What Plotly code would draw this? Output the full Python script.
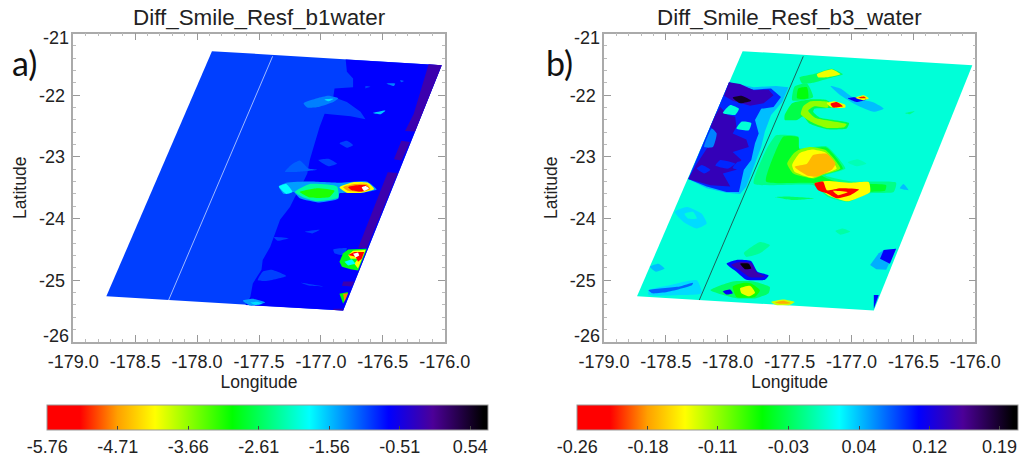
import plotly.graph_objects as go
from plotly.colors import sample_colorscale

W, H = 1021, 458

# ---------- colour scale shared by both panels ----------
scale_stops = [
    [0.0, "#ff0000"], [0.075, "#ff0000"], [0.16, "#ffa000"], [0.245, "#ffff00"],
    [0.42, "#00ff00"], [0.595, "#00ffff"], [0.775, "#0000ff"],
    [0.875, "#4c0098"], [0.99, "#000000"], [1.0, "#000000"],
]

# ---------- scales ----------
a_cmin, a_cmax = -5.76, 0.81
b_cmin, b_cmax = -0.26, 0.208
a_cbar_vals = [-5.76, -4.71, -3.66, -2.61, -1.56, -0.51, 0.54]
a_cbar_text = ["-5.76", "-4.71", "-3.66", "-2.61", "-1.56", "-0.51", "0.54"]
b_cbar_vals = [-0.26, -0.185, -0.111, -0.036, 0.039, 0.114, 0.188]
b_cbar_text = ["-0.26", "-0.18", "-0.11", "-0.03", "0.04", "0.12", "0.19"]

lon_ticks = [-179.0, -178.5, -178.0, -177.5, -177.0, -176.5, -176.0]
lon_labels = ["-179.0", "-178.5", "-178.0", "-177.5", "-177.0", "-176.5", "-176.0"]
lat_ticks = [-22, -23, -24, -25]
lat_labels = ["-22", "-23", "-24", "-25"]

# ---------- swath outline and the straight track line ----------
swath_lon = [-177.88, -176.024, -176.82, -178.733]
swath_lat = [-21.286, -21.513, -25.49, -25.26]
track_lon = [-177.39, -178.23]
track_lat = [-21.37, -25.32]

a_base_value = -0.96
b_base_value = 0.006

# ---------- panel a: regions as (value, [(lon, lat), ...]) ----------
a_zones = [
    (-0.67, [(-176.80,-21.42),(-176.79,-21.62),(-176.74,-21.73),(-176.74,-21.87),(-176.89,-21.89),
             (-176.90,-22.03),(-176.79,-22.11),(-176.68,-22.27),(-176.64,-22.39),(-176.76,-22.34),
             (-176.97,-22.30),(-177.01,-22.51),(-177.05,-22.78),(-177.09,-23.05),(-177.11,-23.27),
             (-177.16,-23.48),(-177.21,-23.65),(-177.25,-23.81),(-177.33,-24.02),(-177.37,-24.24),
             (-177.41,-24.46),(-177.47,-24.67),(-177.48,-24.83),(-177.55,-25.05),(-177.57,-25.27),
             (-177.61,-25.40),(-176.82,-25.49),(-176.024,-21.513)]),
    (-0.15, [(-176.13,-21.50),(-176.024,-21.513),(-176.24,-22.59),(-176.32,-22.58),(-176.25,-22.30),
             (-176.21,-22.03),(-176.17,-21.76)]),
    (-0.15, [(-176.35,-22.74),(-176.28,-22.76),(-176.35,-23.06),(-176.41,-23.04)]),
    (-0.15, [(-176.46,-23.25),(-176.38,-23.26),(-176.63,-24.48),(-176.70,-24.48)]),
    (-0.15, [(-176.82,-25.02),(-176.73,-25.02),(-176.75,-25.10),(-176.83,-25.09)]),
    (-0.15, [(-176.90,-25.46),(-176.82,-25.46),(-176.82,-25.49),(-176.90,-25.48)]),
]
a_faint_blobs = [
    (-1.26, [(-177.14,-22.13),(-177.03,-22.05),(-176.94,-22.01),(-176.86,-22.05),(-176.90,-22.11),(-177.02,-22.19),(-177.11,-22.20)]),
    (-1.70, [(-176.97,-22.07),(-176.90,-22.06),(-176.94,-22.10)]),
    (-0.96, [(-176.85,-22.78),(-176.79,-22.74),(-176.74,-22.81),(-176.79,-22.85)]),
    (-0.96, [(-177.02,-23.05),(-176.94,-23.03),(-176.87,-23.11),(-176.94,-23.15)]),
    (-1.11, [(-177.29,-23.24),(-177.24,-23.13),(-177.17,-23.06),(-177.10,-23.19),(-177.03,-23.21),(-177.17,-23.24)]),
    (-1.26, [(-176.47,-21.81),(-176.40,-21.81),(-176.41,-21.85)]),
    (-1.60, [(-176.58,-22.29),(-176.48,-22.25),(-176.52,-22.31)]),
    (-0.96, [(-176.64,-21.85),(-176.60,-21.86),(-176.64,-21.89)]),
    (-1.10, [(-176.36,-21.76),(-176.33,-21.77),(-176.35,-21.79)]),
    (-0.96, [(-177.13,-24.21),(-177.01,-24.18),(-177.07,-24.24)]),
    (-0.96, [(-177.38,-24.30),(-177.26,-24.32),(-177.35,-24.36)]),
    (-0.96, [(-177.47,-24.86),(-177.40,-24.83),(-177.28,-24.93),(-177.44,-25.01),(-177.51,-25.00)]),
    (-0.96, [(-177.16,-25.04),(-176.98,-25.10),(-177.09,-25.09)]),
    (-0.96, [(-176.90,-24.50),(-176.79,-24.48),(-176.82,-24.59),(-176.89,-24.56)]),
]
a_storm_cells = [
    (-1.40, [(-177.34,-23.48),(-177.28,-23.42),(-177.09,-23.40),(-176.85,-23.42),(-176.63,-23.40),(-176.55,-23.53),
             (-176.66,-23.58),(-176.85,-23.59),(-176.86,-23.68),(-177.01,-23.74),(-177.17,-23.67),(-177.22,-23.57),(-177.30,-23.60)]),
    (-1.85, [(-177.34,-23.48),(-177.28,-23.44),(-177.23,-23.57),(-177.28,-23.60)]),
    (-2.28, [(-177.21,-23.57),(-177.09,-23.44),(-176.87,-23.48),(-176.86,-23.66),(-177.03,-23.72),(-177.15,-23.65)]),
    (-3.13, [(-177.17,-23.57),(-177.03,-23.51),(-176.89,-23.55),(-176.93,-23.65),(-177.09,-23.66)]),
    (-4.15, [(-176.85,-23.49),(-176.74,-23.41),(-176.62,-23.42),(-176.57,-23.52),(-176.67,-23.58),(-176.79,-23.58)]),
    (-4.70, [(-176.82,-23.49),(-176.73,-23.44),(-176.63,-23.44),(-176.60,-23.52),(-176.67,-23.57),(-176.78,-23.55)]),
    (-5.40, [(-176.78,-23.49),(-176.71,-23.46),(-176.64,-23.46),(-176.61,-23.51),(-176.67,-23.56),(-176.75,-23.54)]),
    (None,  [(-176.67,-23.49),(-176.64,-23.47),(-176.61,-23.51),(-176.65,-23.55)]),
    (-1.40, [(-177.63,-25.33),(-177.55,-25.30),(-177.45,-25.36),(-177.57,-25.41)]),
    (-1.70, [(-177.57,-25.36),(-177.51,-25.35),(-177.47,-25.38),(-177.53,-25.40)]),
]
a_edge_cells = [
    (-2.90, [(-176.85,-24.70),(-176.82,-24.56),(-176.78,-24.50),(-176.63,-24.49),(-176.70,-24.84),(-176.76,-24.82),(-176.83,-24.78)]),
    (-4.15, [(-176.78,-24.59),(-176.74,-24.52),(-176.64,-24.51),(-176.70,-24.81),(-176.73,-24.73),(-176.70,-24.65),(-176.76,-24.65)]),
    (-5.40, [(-176.78,-24.59),(-176.73,-24.54),(-176.65,-24.54),(-176.67,-24.65),(-176.70,-24.70),(-176.72,-24.62)]),
    (None,  [(-176.74,-24.57),(-176.70,-24.55),(-176.69,-24.60),(-176.72,-24.63)]),
    (-1.85, [(-176.81,-24.70),(-176.75,-24.66),(-176.72,-24.73),(-176.78,-24.76)]),
    (-3.00, [(-176.85,-25.22),(-176.78,-25.19),(-176.82,-25.38)]),
    (-4.80, [(-176.82,-25.22),(-176.78,-25.21),(-176.81,-25.35)]),
]

# ---------- panel b ----------
b_left_layers = [
    (0.04, [(-177.99,-21.79),(-177.79,-21.87),(-177.61,-21.85),(-177.51,-21.87),(-177.56,-22.11),(-177.65,-22.32),(-177.70,-22.59),
            (-177.73,-22.84),(-177.79,-23.16),(-177.85,-23.48),(-177.90,-23.60),(-178.01,-23.58),(-178.17,-23.51),(-178.32,-23.36)]),
    (0.09, [(-177.99,-21.79),(-177.79,-21.91),(-177.65,-21.89),(-177.57,-22.03),(-177.63,-22.19),(-177.73,-22.22),(-177.78,-22.40),
            (-177.75,-22.62),(-177.78,-22.78),(-177.81,-23.05),(-177.87,-23.21),(-177.91,-23.57),(-178.01,-23.57),(-178.17,-23.48),
            (-178.32,-23.36),(-178.21,-22.84),(-178.09,-22.27)]),
    (0.135, [(-177.99,-21.79),(-177.90,-21.82),(-177.79,-21.92),(-177.67,-21.91),(-177.63,-22.00),(-177.71,-22.13),(-177.82,-22.17),
             (-177.96,-22.09),(-178.03,-22.01)]),
    (0.135, [(-178.06,-22.19),(-178.00,-22.32),(-177.94,-22.35),(-177.93,-22.51),(-177.96,-22.62),(-177.85,-22.72),(-177.83,-22.84),
             (-177.96,-22.92),(-177.89,-23.05),(-177.93,-23.21),(-178.04,-23.27),(-177.98,-23.48),(-178.14,-23.46),(-178.32,-23.36),
             (-178.25,-23.11),(-178.16,-22.84),(-178.09,-22.62),(-178.14,-22.51),(-178.10,-22.32)]),
]
b_left_spots = [
    (0.006, [(-177.98,-22.16),(-177.91,-22.22),(-177.94,-22.32),(-178.04,-22.29)]),
    (0.006, [(-177.89,-22.43),(-177.81,-22.45),(-177.83,-22.57),(-177.93,-22.54)]),
    (0.06,  [(-178.13,-22.54),(-178.09,-22.62),(-178.12,-22.84),(-178.19,-22.84)]),
    (0.09,  [(-177.92,-23.08),(-177.83,-23.06),(-177.88,-23.22),(-177.96,-23.18)]),
    (0.09,  [(-178.21,-23.13),(-178.14,-23.21),(-178.19,-23.27),(-178.25,-23.19)]),
    (0.09,  [(-178.06,-23.05),(-177.94,-23.11),(-178.00,-23.19),(-178.10,-23.14)]),
    (0.19,  [(-177.96,-22.04),(-177.89,-22.01),(-177.81,-22.09),(-177.90,-22.13)]),
]
b_warm_regions = [
    (-0.03, [(-177.42,-21.71),(-177.31,-21.66),(-177.16,-21.57),(-177.07,-21.66),(-177.19,-21.73),(-177.31,-21.80),(-177.40,-21.81)]),
    (-0.14, [(-177.28,-21.66),(-177.16,-21.58),(-177.09,-21.66),(-177.20,-21.71),(-177.27,-21.71)]),
    (-0.03, [(-177.46,-21.86),(-177.36,-21.81),(-177.31,-22.03),(-177.39,-22.08),(-177.48,-22.08)]),
    (-0.06, [(-177.43,-21.89),(-177.36,-21.87),(-177.35,-22.05),(-177.44,-22.05)]),
    (-0.04, [(-177.54,-22.32),(-177.48,-22.13),(-177.34,-22.07),(-177.20,-22.08),(-177.13,-22.20),(-177.30,-22.22),(-177.31,-22.27),
             (-177.26,-22.36),(-177.02,-22.45),(-177.04,-22.54),(-177.20,-22.55),(-177.34,-22.46),(-177.39,-22.34),(-177.44,-22.40),(-177.54,-22.40)]),
    (-0.11, [(-177.39,-22.18),(-177.33,-22.10),(-177.19,-22.11),(-177.19,-22.20),(-177.30,-22.18),(-177.35,-22.25),(-177.29,-22.37),
             (-177.04,-22.47),(-177.06,-22.52),(-177.20,-22.53),(-177.33,-22.43),(-177.41,-22.31)]),
    (-0.14, [(-177.20,-22.13),(-177.14,-22.10),(-177.05,-22.16),(-177.05,-22.20),(-177.16,-22.20)]),
    (-0.225, [(-177.17,-22.14),(-177.12,-22.11),(-177.07,-22.18),(-177.15,-22.20)]),
    (-0.02, [(-177.61,-22.65),(-177.43,-22.67),(-177.43,-22.86),(-177.20,-22.83),(-177.05,-23.19),(-177.21,-23.30),(-176.99,-23.40),
             (-176.64,-23.42),(-176.66,-23.57),(-176.86,-23.59),(-177.03,-23.73),(-177.19,-23.65),(-177.31,-23.46),(-177.79,-23.43),(-177.69,-22.89)]),
    (-0.05, [(-177.55,-22.67),(-177.43,-22.68),(-177.42,-22.87),(-177.20,-22.85),(-177.07,-23.19),(-177.24,-23.30),(-177.09,-23.42),
             (-176.72,-23.46),(-176.73,-23.55),(-176.86,-23.57),(-177.03,-23.70),(-177.17,-23.62),(-177.30,-23.43),(-177.69,-23.40),(-177.61,-22.89)]),
    (-0.105, [(-177.43,-22.89),(-177.34,-22.84),(-177.21,-22.89),(-177.09,-23.19),(-177.24,-23.30),(-177.31,-23.35),(-177.47,-23.27),(-177.52,-23.11),(-177.47,-22.95)]),
    (-0.145, [(-177.42,-22.94),(-177.32,-22.88),(-177.21,-22.93),(-177.12,-23.19),(-177.25,-23.29),(-177.32,-23.34),(-177.46,-23.24),(-177.48,-23.13)]),
    (-0.175, [(-177.31,-22.97),(-177.20,-22.95),(-177.13,-23.11),(-177.16,-23.21),(-177.28,-23.32),(-177.36,-23.30),(-177.46,-23.16),(-177.36,-23.11)]),
    (-0.145, [(-177.30,-23.43),(-177.20,-23.39),(-177.01,-23.42),(-176.86,-23.41),(-176.85,-23.57),(-177.03,-23.72),(-177.18,-23.63)]),
    (-0.23, [(-177.30,-23.43),(-177.23,-23.40),(-177.20,-23.54),(-177.09,-23.51),(-176.94,-23.53),(-177.01,-23.62),(-177.12,-23.67),(-177.20,-23.59),(-177.27,-23.54)]),
    (-0.15, [(-177.15,-23.55),(-177.03,-23.57),(-177.11,-23.62)]),
    (-0.03, [(-177.62,-23.65),(-177.52,-23.64),(-177.30,-23.67),(-177.47,-23.70)]),
    (-0.01, [(-177.13,-24.20),(-177.07,-24.16),(-177.01,-24.21),(-177.09,-24.26)]),
    (-0.005, [(-177.03,-23.09),(-176.95,-23.04),(-176.88,-23.11),(-176.96,-23.15)]),
    (-0.015, [(-177.87,-24.56),(-177.74,-24.38),(-177.66,-24.43),(-177.74,-24.56),(-177.85,-24.62)]),
    (-0.03, [(-178.14,-25.16),(-177.96,-25.02),(-177.79,-25.02),(-177.66,-25.11),(-177.67,-25.21),(-177.77,-25.29),(-177.93,-25.29)]),
    (-0.07, [(-177.96,-25.10),(-177.87,-25.04),(-177.81,-25.05),(-177.74,-25.16),(-177.78,-25.27),(-177.93,-25.27)]),
    (-0.14, [(-177.90,-25.13),(-177.82,-25.09),(-177.78,-25.20),(-177.83,-25.26),(-177.89,-25.21)]),
    (-0.13, [(-177.65,-25.35),(-177.55,-25.31),(-177.46,-25.35),(-177.50,-25.40),(-177.61,-25.40)]),
    (-0.18, [(-177.62,-25.36),(-177.55,-25.33),(-177.49,-25.37),(-177.58,-25.38)]),
    (-0.02, [(-176.57,-22.29),(-176.49,-22.26),(-176.53,-22.31)]),
]
b_cool_regions = [
    (0.04, [(-177.17,-21.85),(-177.09,-21.89),(-176.99,-22.03),(-176.82,-22.12),(-176.74,-22.22),(-176.82,-22.27),(-176.96,-22.16),(-177.09,-22.00)]),
    (0.105, [(-177.03,-22.05),(-176.95,-22.03),(-176.88,-22.07),(-176.96,-22.11)]),
    (-0.14, [(-176.97,-22.04),(-176.90,-22.00),(-176.86,-22.05),(-176.90,-22.08)]),
    (-0.22, [(-176.95,-22.04),(-176.90,-22.02),(-176.88,-22.05)]),
    (0.04, [(-176.61,-23.51),(-176.58,-23.44),(-176.54,-23.54)]),
    (0.10, [(-178.01,-24.73),(-177.93,-24.67),(-177.81,-24.69),(-177.76,-24.86),(-177.67,-24.92),(-177.70,-24.99),(-177.85,-24.99),(-177.93,-24.86)]),
    (0.14, [(-177.97,-24.75),(-177.90,-24.70),(-177.81,-24.72),(-177.77,-24.86),(-177.70,-24.94),(-177.82,-24.95),(-177.90,-24.84)]),
    (0.20, [(-177.90,-24.73),(-177.83,-24.73),(-177.81,-24.81),(-177.86,-24.82)]),
    (0.105, [(-178.04,-25.18),(-177.98,-25.15),(-177.96,-25.21),(-178.01,-25.23)]),
    (0.04, [(-178.63,-24.78),(-178.56,-24.73),(-178.51,-24.81),(-178.58,-24.86)]),
    (0.03, [(-178.64,-25.16),(-178.47,-25.08),(-178.25,-25.00),(-178.21,-25.21),(-178.39,-25.24),(-178.64,-25.24)]),
    (0.07, [(-178.64,-25.16),(-178.39,-25.10),(-178.28,-25.04),(-178.29,-25.08),(-178.49,-25.19),(-178.61,-25.21)]),
    (0.03, [(-178.43,-23.89),(-178.33,-23.81),(-178.21,-23.92),(-178.17,-24.08),(-178.25,-24.16),(-178.36,-24.05)]),
    (0.006, [(-178.35,-23.92),(-178.28,-23.89),(-178.25,-24.00),(-178.32,-24.00)]),
]
b_edge_cells = [
    (0.045, [(-176.85,-24.75),(-176.78,-24.56),(-176.74,-24.51),(-176.64,-24.49),(-176.72,-24.83),(-176.80,-24.82)]),
    (0.105, [(-176.74,-24.51),(-176.64,-24.49),(-176.69,-24.73),(-176.77,-24.65)]),
    (0.10,  [(-176.82,-25.24),(-176.78,-25.24),(-176.82,-25.46)]),
]

fig = go.Figure()


def colour(v, lo, hi):
    if v is None:
        return "#ffffff"
    t = min(1.0, max(0.0, (v - lo) / (hi - lo)))
    return sample_colorscale(scale_stops, [t])[0]


def region(value, pts, lo, hi, axes, smooth):
    lons = [p[0] for p in pts] + [pts[0][0]]
    lats = [p[1] for p in pts] + [pts[0][1]]
    fig.add_trace(go.Scatter(
        x=lons, y=lats, xaxis=axes[0], yaxis=axes[1], mode="lines", fill="toself",
        fillcolor=colour(value, lo, hi),
        line=dict(width=0, shape="spline" if smooth else "linear", smoothing=0.5),
        hoverinfo="skip", showlegend=False))


def panel(groups, base, lo, hi, axes, track_colour):
    region(base, list(zip(swath_lon, swath_lat)), lo, hi, axes, False)
    for regions, smooth in groups:
        for v, pts in regions:
            region(v, pts, lo, hi, axes, smooth)
    fig.add_trace(go.Scatter(
        x=track_lon, y=track_lat, xaxis=axes[0], yaxis=axes[1], mode="lines",
        line=dict(color=track_colour, width=0.8), hoverinfo="skip", showlegend=False))


panel([(a_zones, False), (a_faint_blobs, True), (a_storm_cells, True), (a_edge_cells, False)],
      a_base_value, a_cmin, a_cmax, ("x", "y"), "#c8d8ff")
panel([(b_left_layers, False), (b_left_spots, True), (b_warm_regions, True), (b_cool_regions, True), (b_edge_cells, False)],
      b_base_value, b_cmin, b_cmax, ("x2", "y2"), "#223a3a")


def colourbar(lo, hi, vals, text, left, axes):
    fig.add_trace(go.Scatter(
        x=[None], y=[None], xaxis=axes[0], yaxis=axes[1], mode="markers", showlegend=False,
        marker=dict(
            color=[lo], cmin=lo, cmax=hi, colorscale=scale_stops, showscale=True,
            colorbar=dict(
                orientation="h", lenmode="pixels", len=441, thicknessmode="pixels", thickness=24.5,
                x=left / W, xanchor="left", y=1 - 405 / H, yanchor="top",
                xpad=0, ypad=0, tickmode="array", tickvals=vals, ticktext=text,
                ticks="inside", ticklen=4, tickcolor="#444444", tickwidth=1,
                outlinecolor="#999999", outlinewidth=1, borderwidth=0,
                tickfont=dict(family="Liberation Sans", size=18, color="#222222"),
            ))))


colourbar(a_cmin, a_cmax, a_cbar_vals, a_cbar_text, 47.3, ("x", "y"))
colourbar(b_cmin, b_cmax, b_cbar_vals, b_cbar_text, 577.3, ("x2", "y2"))

txt = dict(family="Liberation Sans", size=18, color="#222222")
label = dict(family="Liberation Sans", size=17.5, color="#222222")
axis_style = dict(
    showgrid=False, zeroline=False, showline=True, linecolor="#aaaaaa", linewidth=1.5,
    mirror="allticks", ticks="inside", ticklen=7, tickcolor="#999999", tickwidth=1,
    tickfont=txt, ticklabelstandoff=3, automargin=False,
)
fig.update_layout(
    width=W, height=H, margin=dict(l=0, r=0, t=0, b=0, autoexpand=False), paper_bgcolor="white", plot_bgcolor="white",
    showlegend=False,
    xaxis=dict(domain=[73.3 / W, 444.7 / W], range=[-179, -176], anchor="y", tickvals=lon_ticks, ticktext=lon_labels,
               minor=dict(dtick=0.1, ticks="inside", ticklen=3, tickcolor="#bbbbbb"),
               title=dict(text="Longitude", font=label, standoff=3), **axis_style),
    yaxis=dict(domain=[1 - 342 / H, 1 - 33.5 / H], range=[-26, -21], anchor="x", tickvals=lat_ticks, ticktext=lat_labels,
               minor=dict(dtick=0.2, ticks="inside", ticklen=3, tickcolor="#bbbbbb"),
               title=dict(text="Latitude", font=label, standoff=8), **axis_style),
    xaxis2=dict(domain=[604 / W, 975.3 / W], range=[-179, -176], anchor="y2", tickvals=lon_ticks, ticktext=lon_labels,
                minor=dict(dtick=0.1, ticks="inside", ticklen=3, tickcolor="#bbbbbb"),
                title=dict(text="Longitude", font=label, standoff=3), **axis_style),
    yaxis2=dict(domain=[1 - 342 / H, 1 - 33.5 / H], range=[-26, -21], anchor="x2", tickvals=lat_ticks, ticktext=lat_labels,
                minor=dict(dtick=0.2, ticks="inside", ticklen=3, tickcolor="#bbbbbb"),
                title=dict(text="Latitude", font=label, standoff=8), **axis_style),
)

for xa, ya, title, tag, tag_x in [("x", "y", "Diff_Smile_Resf_b1water", "a)", 24),
                                  ("x2", "y2", "Diff_Smile_Resf_b3_water", "b)", 559)]:
    fig.add_annotation(xref=xa + " domain", yref="paper", x=0.5, y=1 - 17 / H, text=title, showarrow=False,
                       font=dict(family="Liberation Sans", size=22.4, color="#222222"), yanchor="middle")
    fig.add_annotation(xref="paper", yref="paper", x=tag_x / W, y=1 - 63 / H, text=tag, showarrow=False,
                       xanchor="center", font=dict(family="Lato", size=34, color="#111111"), yanchor="middle")
    fig.add_annotation(xref=xa, yref=ya, x=-179, y=-21, text="-21", showarrow=False, xanchor="right", xshift=-2,
                       yshift=-5, font=txt)
    fig.add_annotation(xref=xa, yref=ya, x=-179, y=-26, text="-26", showarrow=False, xanchor="right", xshift=-2,
                       yshift=6, font=txt)

fig.write_html("out.html", config={"displayModeBar": False}, post_script="document.body.style.margin='0';")
